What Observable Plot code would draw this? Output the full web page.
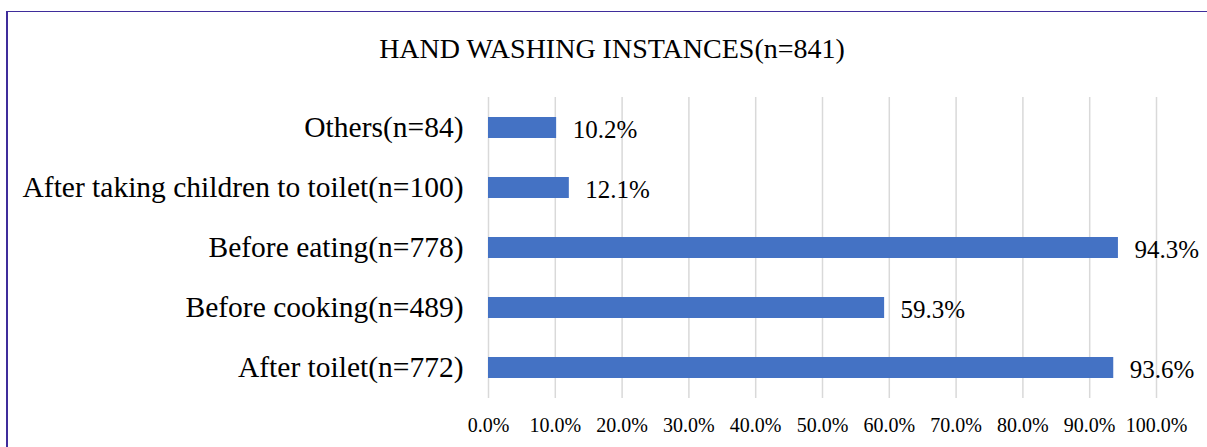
<!DOCTYPE html>
<html>
<head>
<meta charset="utf-8">
<script src="https://cdn.jsdelivr.net/npm/d3@7"></script>
<script src="https://cdn.jsdelivr.net/npm/@observablehq/plot@0.6"></script>
<style>
  html, body { margin: 0; padding: 0; background: #fff; }
  #wrap { position: relative; width: 1207px; height: 447px; overflow: hidden; }
  #frame { position: absolute; left: 6px; top: 11px; width: 1300px; height: 600px;
           border-left: 2px solid #3f2d9b; border-top: 1px solid #3f2d9b; box-sizing: border-box; }
  #title { position: absolute; left: 0; width: 1224px; top: 34.5px; text-align: center; line-height: 28px;
           font-family: "Liberation Serif", "Times New Roman", serif; font-size: 28px; color: #000; white-space: nowrap; }
  #chart { position: absolute; left: 0; top: 0; }
</style>
</head>
<body>
<div id="wrap">
  <div id="frame"></div>
  <div id="chart"></div>
  <div id="title">HAND WASHING INSTANCES(n=841)</div>
</div>
<script>
const categories = ["Others(n=84)", "After taking children to toilet(n=100)", "Before eating(n=778)", "Before cooking(n=489)", "After toilet(n=772)"];
const values = [10.2, 12.1, 94.3, 59.3, 93.6];
const xTicks = [0, 10, 20, 30, 40, 50, 60, 70, 80, 90, 100];

const data = categories.map((c, i) => ({category: c, value: values[i]}));
const serif = "'Liberation Serif', 'Times New Roman', serif";

const chart = Plot.plot({
  width: 1207,
  height: 447,
  marginTop: 97,
  marginBottom: 49,
  marginLeft: 488,
  marginRight: 51,
  style: {fontFamily: serif, background: "transparent", color: "#000"},
  x: {domain: [0, 100], axis: null},
  y: {domain: categories, paddingInner: 0.65, paddingOuter: 0.325, axis: null},
  marks: [
    Plot.gridX(xTicks, {stroke: "#d9d9d9", strokeOpacity: 1, strokeWidth: 1.5}),
    Plot.barX(data, {x: "value", y: "category", fill: "#4472C4"}),
    Plot.text(data, {x: "value", y: "category", text: d => d.value.toFixed(1) + "%", textAnchor: "start", dx: 16, dy: 1.5, fontSize: 25, fontFamily: serif, fill: "#000"}),
    Plot.text(data, {y: "category", text: "category", frameAnchor: "left", textAnchor: "end", dx: -25, fontSize: 29.5, fontFamily: serif, fill: "#000"}),
    Plot.text(xTicks, {x: d => d, text: d => d.toFixed(1) + "%", frameAnchor: "bottom", lineAnchor: "top", dy: 18.8, fontSize: 20, fontFamily: serif, fill: "#000"})
  ]
});
document.getElementById("chart").appendChild(chart);
</script>
</body>
</html>
